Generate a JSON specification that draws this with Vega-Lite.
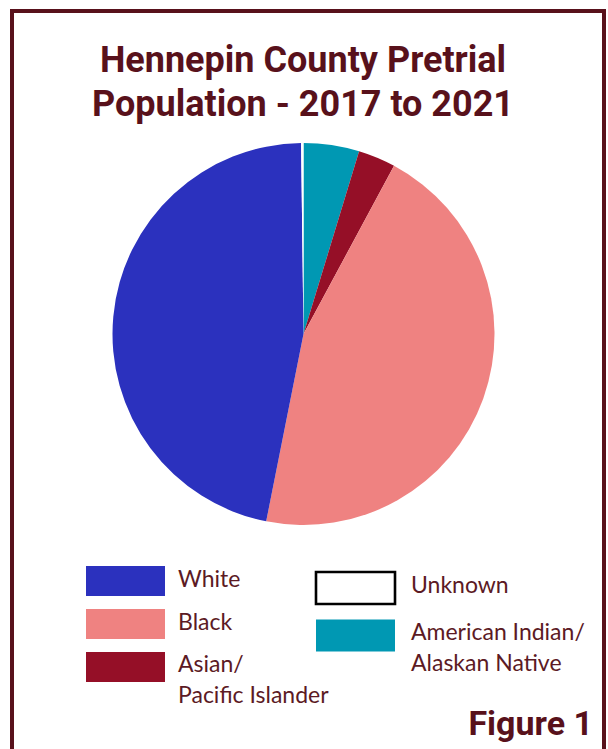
{
  "$schema": "https://vega.github.io/schema/vega-lite/v6.json",
  "width": 592,
  "height": 740,
  "autosize": {"type": "none"},
  "padding": {"left": 12, "top": 11, "right": 4, "bottom": 0},
  "background": "#ffffff",
  "config": {
    "view": {"stroke": "#58111b", "strokeWidth": 4},
    "font": "Lato"
  },
  "title": {
    "text": ["Hennepin County Pretrial", "Population - 2017 to 2021"],
    "font": "Roboto",
    "fontWeight": "bold",
    "fontSize": 36,
    "color": "#58111b",
    "lineHeight": 44,
    "anchor": "middle",
    "frame": "group",
    "offset": -113,
    "dx": -5
  },
  "datasets": {
    "races": [
      {"race": "American Indian/Alaskan Native", "label": "American Indian/\nAlaskan Native", "share": 4.70, "rank": 1},
      {"race": "Asian/Pacific Islander", "label": "Asian/\nPacific Islander", "share": 3.16, "rank": 2},
      {"race": "Black", "label": "Black", "share": 45.27, "rank": 3},
      {"race": "White", "label": "White", "share": 46.67, "rank": 4},
      {"race": "Unknown", "label": "Unknown", "share": 0.20, "rank": 5}
    ]
  },
  "data": {"name": "races"},
  "resolve": {"scale": {"y": "independent"}},
  "layer": [
    {
      "mark": {"type": "arc", "outerRadius": 191, "x": 291.5, "y": 323},
      "encoding": {
        "theta": {"field": "share", "type": "quantitative", "stack": true},
        "order": {"field": "rank", "type": "quantitative"},
        "color": {
          "field": "race",
          "type": "nominal",
          "scale": {
            "domain": ["White", "Black", "Asian/Pacific Islander", "Unknown", "American Indian/Alaskan Native"],
            "range": ["#2b31be", "#ef8281", "#950f27", "#ffffff", "#0098b3"]
          },
          "legend": null
        }
      }
    },
    {
      "transform": [{"filter": {"field": "race", "oneOf": ["White", "Black", "Asian/Pacific Islander"]}}],
      "encoding": {
        "x": {"datum": "left", "type": "nominal", "scale": {"domain": ["left", "right"], "range": [74, 383], "paddingInner": 0.6565, "paddingOuter": 0}, "axis": null},
        "y": {"field": "race", "type": "nominal", "scale": {"domain": ["White", "Black", "Asian/Pacific Islander"], "range": [555, 671], "paddingInner": 0.302, "paddingOuter": 0}, "axis": null}
      },
      "layer": [
        {
          "mark": {"type": "rect"},
          "encoding": {"color": {"field": "race", "type": "nominal", "legend": null}}
        },
        {
          "mark": {"type": "text", "align": "left", "baseline": "alphabetic", "dx": 52.5, "dy": 5.5, "lineBreak": "\n", "lineHeight": 30.5, "fontSize": 23, "color": "#5c1a24"},
          "encoding": {"text": {"field": "label", "type": "nominal"}}
        }
      ]
    },
    {
      "transform": [{"filter": {"field": "race", "oneOf": ["Unknown", "American Indian/Alaskan Native"]}}],
      "encoding": {
        "x": {"datum": "right", "type": "nominal", "scale": {"domain": ["left", "right"], "range": [74, 383], "paddingInner": 0.6565, "paddingOuter": 0}, "axis": null},
        "y": {"field": "race", "type": "nominal", "scale": {"domain": ["Unknown", "American Indian/Alaskan Native"], "range": [561, 640.5], "paddingInner": 0.326, "paddingOuter": 0}, "axis": null}
      },
      "layer": [
        {
          "mark": {"type": "rect", "strokeWidth": 2.6},
          "encoding": {
            "color": {"field": "race", "type": "nominal", "legend": null},
            "stroke": {"condition": {"test": "datum.race === 'Unknown'", "value": "#000000"}, "value": null}
          }
        },
        {
          "mark": {"type": "text", "align": "left", "baseline": "alphabetic", "dx": 55.5, "dy": 4.5, "lineBreak": "\n", "lineHeight": 31.5, "fontSize": 23, "color": "#5c1a24"},
          "encoding": {"text": {"field": "label", "type": "nominal"}}
        }
      ]
    },
    {
      "data": {"values": [{"caption": "Figure 1"}]},
      "mark": {"type": "text", "x": {"expr": "width - 11"}, "y": {"expr": "height - 16"}, "align": "right", "baseline": "alphabetic", "font": "Roboto", "fontWeight": "bold", "fontSize": 34, "color": "#58111b"},
      "encoding": {"text": {"field": "caption", "type": "nominal"}}
    }
  ]
}
